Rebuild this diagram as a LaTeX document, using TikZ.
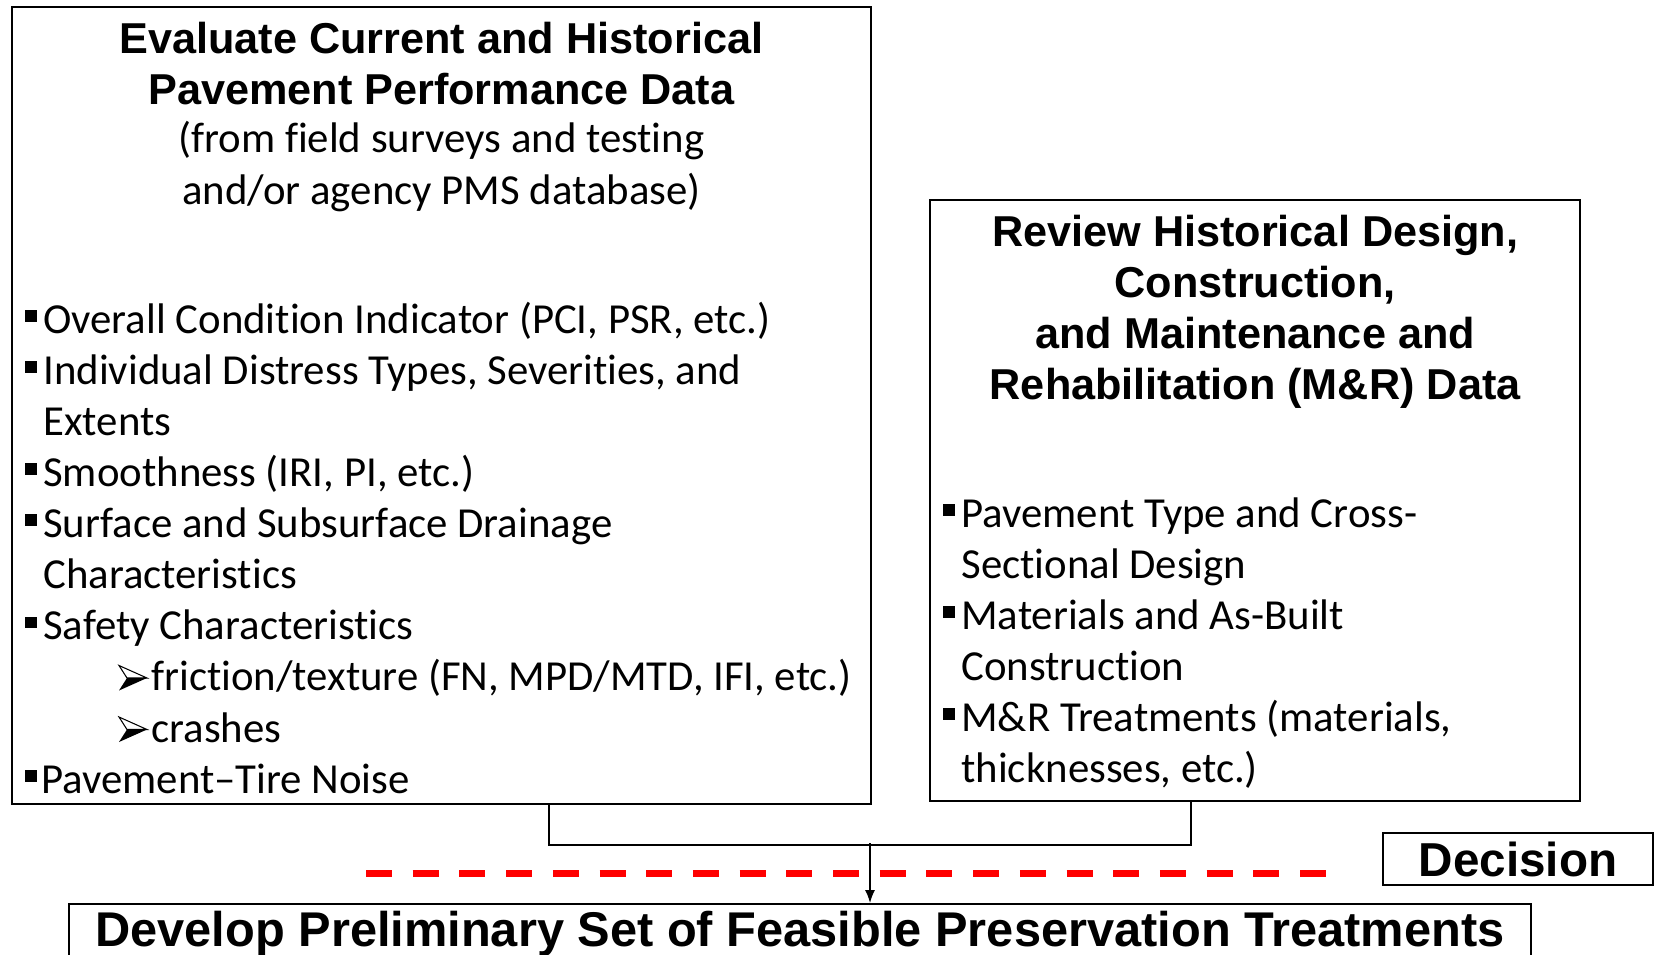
\documentclass[tikz,border=0pt]{standalone}
\usepackage{fontspec}
\setmainfont{Carlito}[Ligatures = NoCommon]
\newfontfamily\headfont{Liberation Sans}
\usetikzlibrary{arrows.meta}

% viñeta cuadrada
\newcommand{\bul}{\makebox[0.36cm][l]{\rule[0.26em]{0.27em}{0.27em}}}

\begin{document}
\begin{tikzpicture}[
	caja/.style = {draw, line width = 1.3pt, inner sep = 0pt},
	texto/.style = {anchor = base west, inner sep = 0pt,
		font = \fontsize{24.35}{29}\selectfont},
	centro/.style = {anchor = base, inner sep = 0pt,
		font = \fontsize{24.35}{29}\selectfont},
	titulo/.style = {anchor = base, inner sep = 0pt,
		font = \headfont\bfseries\fontsize{24.6}{29.5}\selectfont},
	conector/.style = {line width = 1.3pt},
	flecha/.style = {line width = 0.8pt, -{Latex[length = 2.6mm, width = 2mm]}},
]

	% márgenes del dibujo
	\useasboundingbox (0,0) rectangle (33.12,-19.08);

	% cajas de datos
	\node[caja, anchor = north west, minimum width = 17.19cm, minimum height = 15.95cm]
		(eval) at (0.21,-0.11) {};
	\node[caja, anchor = north west, minimum width = 13.00cm, minimum height = 12.02cm]
		(review) at (18.58,-3.98) {};

	% títulos
	\foreach \y/\t [count = \i] in {
		1.06/{Evaluate Current and Historical},
		2.08/{Pavement Performance Data}}
		\node[titulo] (evT\i) at (eval.north |- 0,-\y) {\t};
	\foreach \y/\t [count = \i] in {
		3.04/{(from field surveys and testing},
		4.08/{and/or agency PMS database)}}
		\node[centro] (evS\i) at (eval.north |- 0,-\y) {\t};
	\foreach \y/\t [count = \i] in {
		4.92/{Review Historical Design,},
		5.94/{Construction,},
		6.97/{and Maintenance and},
		7.99/{Rehabilitation (M\&R) Data}}
		\node[titulo] (rvT\i) at (review.north |- 0,-\y) {\t};

	% listas
	\foreach \x/\y/\t [count = \i] in {
		0.50/6.66/{\bul Overall Condition Indicator (PCI, PSR, etc.)},
		0.50/7.68/{\bul Individual Distress Types, Severities, and},
		0.86/8.70/{Extents},
		0.50/9.72/{\bul Smoothness (IRI, PI, etc.)},
		0.50/10.74/{\bul Surface and Subsurface Drainage},
		0.86/11.77/{Characteristics},
		0.50/12.79/{\bul Safety Characteristics},
		3.02/13.81/{friction/texture (FN, MPD/MTD, IFI, etc.)},
		3.02/14.84/{crashes},
		0.50/15.86/{\rule[0.26em]{0.27em}{0.27em}\hspace{0.09cm}Pavement–Tire Noise}}
		\node[texto] (evL\i) at (\x,-\y) {\t};
	\foreach \x/\y/\t [count = \i] in {
		18.86/10.54/{\bul Pavement Type and Cross-},
		19.22/11.56/{Sectional Design},
		18.86/12.58/{\bul Materials and As-Built},
		19.22/13.60/{Construction},
		18.86/14.62/{\bul M\&R Treatments (materials,},
		19.22/15.64/{thicknesses, etc.)}}
		\node[texto] (rvL\i) at (\x,-\y) {\t};

	% puntas de flecha de las subviñetas
	\foreach \n in {evL8, evL9} {
		\coordinate (p) at ([xshift = -0.64cm]\n.base west);
		\draw[line width = 0.6pt, fill = white, line join = miter]
			(p) ++(0,0.50) -- ++(0.56,-0.25) -- ++(-0.40,0) -- cycle;
		\fill (p) -- ++(0.56,0.25) -- ++(-0.40,0) -- cycle;
	}

	% decisión y tratamientos
	\node[caja, minimum width = 5.40cm, minimum height = 1.04cm,
		font = \headfont\bfseries\fontsize{27.1}{32}\selectfont]
		(dec) at (30.36,-17.18) {Decision};
	\node[caja, anchor = north, minimum width = 29.24cm, inner ysep = 0.14cm,
		font = \headfont\bfseries\fontsize{27.75}{33}\selectfont]
		(dev) at (16.00,-18.06) {Develop Preliminary Set of Feasible Preservation Treatments};

	% línea de decisión
	\draw[red, line width = 0.14cm, dash pattern = on 0.52cm off 0.414cm]
		(7.32,-17.46) -- (26.54,-17.46);

	% conectores
	\coordinate (codoI) at (10.98,-16.90);
	\coordinate (codoD) at (23.82,-16.90);
	\coordinate (salida) at (17.40,-16.86);
	\draw[conector] (eval.south -| codoI) -- (codoI) -- (codoD) -- (review.south -| codoD);
	\draw[flecha] (salida) -- (salida |- dev.north);

\end{tikzpicture}
\end{document}
